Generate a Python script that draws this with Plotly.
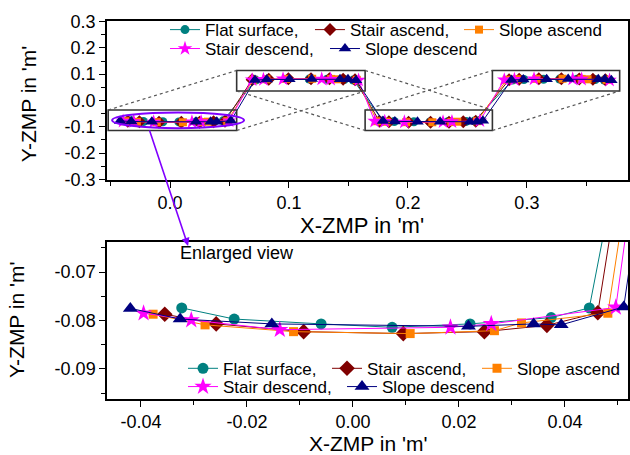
import plotly.graph_objects as go

# ---------------- data ----------------
series_names = ["Flat surface,", "Stair ascend,", "Slope ascend", "Stair descend,", "Slope descend"]

flat_x = [-0.0323, -0.0224, -0.0060, 0.0074, 0.0221, 0.0374, 0.0446,
          0.0720, 0.0815, 0.0985, 0.1170, 0.1320, 0.1465, 0.1540,
          0.1790, 0.1885, 0.2050, 0.2185, 0.2335, 0.2490, 0.2560,
          0.2880, 0.2975, 0.3140, 0.3275, 0.3420, 0.3575, 0.3650]
flat_y = [-0.0774, -0.0797, -0.0807, -0.0814, -0.0807, -0.0794, -0.0774,
          0.0776, 0.0798, 0.0808, 0.0812, 0.0806, 0.0795, 0.0775,
          -0.0775, -0.0796, -0.0808, -0.0813, -0.0806, -0.0795, -0.0776,
          0.0777, 0.0797, 0.0806, 0.0813, 0.0807, 0.0794, 0.0775]

stair_up_x = [-0.0355, -0.0258, -0.0093, 0.0095, 0.0248, 0.0366, 0.0462,
              0.0690, 0.0830, 0.0995, 0.1185, 0.1340, 0.1455, 0.1555,
              0.1760, 0.1840, 0.2005, 0.2190, 0.2345, 0.2465, 0.2570,
              0.2850, 0.2935, 0.3100, 0.3290, 0.3440, 0.3555, 0.3660]
stair_up_y = [-0.0787, -0.0807, -0.0823, -0.0827, -0.0823, -0.0810, -0.0784,
              0.0786, 0.0806, 0.0822, 0.0826, 0.0822, 0.0811, 0.0785,
              -0.0786, -0.0808, -0.0822, -0.0826, -0.0822, -0.0810, -0.0785,
              0.0787, 0.0807, 0.0823, 0.0827, 0.0821, 0.0810, 0.0784]

slope_up_x = [-0.0377, -0.0279, -0.0112, 0.0108, 0.0267, 0.0318, 0.0481,
              0.0700, 0.0810, 0.0975, 0.1195, 0.1355, 0.1405, 0.1570,
              0.1740, 0.1820, 0.1985, 0.2205, 0.2365, 0.2415, 0.2580,
              0.2830, 0.2915, 0.3080, 0.3300, 0.3460, 0.3510, 0.3670]
slope_up_y = [-0.0787, -0.0809, -0.0823, -0.0827, -0.0821, -0.0805, -0.0785,
              0.0786, 0.0808, 0.0822, 0.0826, 0.0820, 0.0806, 0.0784,
              -0.0788, -0.0808, -0.0824, -0.0826, -0.0821, -0.0806, -0.0785,
              0.0787, 0.0809, 0.0823, 0.0827, 0.0820, 0.0805, 0.0786]

stair_down_x = [-0.0395, -0.0305, -0.0138, 0.0184, 0.0261, 0.0496,
                0.0690, 0.0785, 0.0950, 0.1275, 0.1350, 0.1585,
                0.1720, 0.1805, 0.1970, 0.2295, 0.2370, 0.2605,
                0.2810, 0.2895, 0.3060, 0.3385, 0.3460, 0.3695]
stair_down_y = [-0.0785, -0.0799, -0.0819, -0.0814, -0.0807, -0.0773,
                0.0784, 0.0800, 0.0818, 0.0815, 0.0806, 0.0774,
                -0.0786, -0.0798, -0.0819, -0.0813, -0.0807, -0.0774,
                0.0785, 0.0799, 0.0820, 0.0814, 0.0808, 0.0773]

slope_down_x = [-0.0420, -0.0326, -0.0153, 0.0218, 0.0341, 0.0393, 0.0511,
                0.0714, 0.0813, 0.1003, 0.1191, 0.1429, 0.1496, 0.1563,
                0.1790, 0.1890, 0.2080, 0.2270, 0.2520, 0.2580, 0.2630,
                0.2870, 0.2970, 0.3166, 0.3347, 0.3600, 0.3655, 0.3710]
slope_down_y = [-0.0775, -0.0797, -0.0807, -0.0812, -0.0807, -0.0809, -0.0772,
                0.0774, 0.0798, 0.0806, 0.0813, 0.0808, 0.0808, 0.0773,
                -0.0776, -0.0796, -0.0807, -0.0812, -0.0806, -0.0809, -0.0773,
                0.0775, 0.0797, 0.0808, 0.0812, 0.0807, 0.0809, 0.0772]

series_x = [flat_x, stair_up_x, slope_up_x, stair_down_x, slope_down_x]
series_y = [flat_y, stair_up_y, slope_up_y, stair_down_y, slope_down_y]

top_x_ticks = [0.0, 0.1, 0.2, 0.3]
top_x_labels = ["0.0", "0.1", "0.2", "0.3"]
top_y_ticks = [-0.3, -0.2, -0.1, 0.0, 0.1, 0.2, 0.3]
top_y_labels = ["-0.3", "-0.2", "-0.1", "0.0", "0.1", "0.2", "0.3"]
bot_x_ticks = [-0.04, -0.02, 0.0, 0.02, 0.04]
bot_x_labels = ["-0.04", "-0.02", "0.00", "0.02", "0.04"]
bot_y_ticks = [-0.09, -0.08, -0.07]
bot_y_labels = ["-0.09", "-0.08", "-0.07"]

# ---------------- styling ----------------
colors = ["#008080", "#800000", "#FF8000", "#FF00FF", "#000080"]
symbols = ["circle", "diamond", "square", "star", "triangle-up"]
size_top = [9, 10, 8, 11, 11]
size_bot = [11, 12, 9, 13, 13]
FONT = "Liberation Sans, Arial, sans-serif"

# legend entry placement (paper coords): two rows in each panel
top_leg_pos = [(0.1113, 0.976), (0.3896, 0.976), (0.6756, 0.976), (0.1113, 0.926), (0.4184, 0.926)]
bot_leg_pos = [(0.1459, 0.080), (0.4223, 0.080), (0.7102, 0.080), (0.1459, 0.0317), (0.4511, 0.0317)]

def legend_id(k):
    return "legend" if k == 1 else "legend%d" % k

fig = go.Figure()
for i, name in enumerate(series_names):
    fig.add_trace(go.Scatter(
        x=series_x[i], y=series_y[i], mode="lines+markers", name=name,
        xaxis="x", yaxis="y", legend=legend_id(i + 1),
        line=dict(color=colors[i], width=1),
        marker=dict(symbol=symbols[i], size=size_top[i], color=colors[i],
                    line=dict(width=0))))
for i, name in enumerate(series_names):
    fig.add_trace(go.Scatter(
        x=series_x[i], y=series_y[i], mode="lines+markers", name=name,
        xaxis="x2", yaxis="y2", legend=legend_id(i + 6),
        line=dict(color=colors[i], width=1),
        marker=dict(symbol=symbols[i], size=size_bot[i], color=colors[i],
                    line=dict(width=0))))

axis_common = dict(showline=True, linecolor="black", linewidth=1.5, mirror=True,
                   showgrid=False, zeroline=False, ticks="outside", ticklen=6,
                   tickwidth=1.2, tickcolor="black", automargin=False,
                   tickfont=dict(family=FONT, size=18, color="black"))

fig.update_layout(
    width=630, height=455,
    margin=dict(l=107, r=2, t=21, b=56, autoexpand=False),
    paper_bgcolor="white", plot_bgcolor="white",
    font=dict(family=FONT, color="black"),
    xaxis=dict(domain=[0, 1], anchor="y", range=[-0.053, 0.385],
               tickmode="array", tickvals=top_x_ticks, ticktext=top_x_labels,
               minor=dict(tickvals=[-0.05, 0.05, 0.15, 0.25, 0.35], ticklen=4,
                          ticks="outside", tickcolor="black"),
               **axis_common),
    yaxis=dict(domain=[0.5794, 1], anchor="x", range=[-0.302, 0.302],
               tickmode="array", tickvals=top_y_ticks, ticktext=top_y_labels,
               minor=dict(tickvals=[-0.25, -0.15, -0.05, 0.05, 0.15, 0.25], ticklen=4,
                          ticks="outside", tickcolor="black"),
               **axis_common),
    xaxis2=dict(domain=[0, 1], anchor="y2", range=[-0.0464, 0.0519],
                tickmode="array", tickvals=bot_x_ticks, ticktext=bot_x_labels,
                minor=dict(tickvals=[-0.03, -0.01, 0.01, 0.03, 0.05], ticklen=4,
                           ticks="outside", tickcolor="black"),
                **axis_common),
    yaxis2=dict(domain=[0, 0.4153], anchor="x2", range=[-0.0962, -0.0638],
                tickmode="array", tickvals=bot_y_ticks, ticktext=bot_y_labels,
                minor=dict(tickvals=[-0.095, -0.085, -0.075, -0.065], ticklen=4,
                           ticks="outside", tickcolor="black"),
                **axis_common),
    showlegend=True,
)

leg_common = dict(orientation="h", xanchor="left", yanchor="middle",
                  bgcolor="rgba(0,0,0,0)", borderwidth=0,
                  font=dict(family=FONT, size=17, color="black"))
legends = {}
for k, (lx, ly) in enumerate(top_leg_pos + bot_leg_pos):
    legends[legend_id(k + 1)] = dict(x=lx, y=ly, **leg_common)
fig.update_layout(**legends)

# zoom boxes around each step in the top panel
box_x = [(-0.052, 0.056), (0.056, 0.164), (0.164, 0.271), (0.271, 0.378)]
box_y = [(-0.114, -0.036), (0.036, 0.114), (-0.114, -0.036), (0.036, 0.114)]
shapes = []
for (x0, x1), (y0, y1) in zip(box_x, box_y):
    shapes.append(dict(type="rect", xref="x", yref="y", x0=x0, x1=x1, y0=y0, y1=y1,
                       line=dict(color="#333333", width=1.6)))
connectors = [
    ((-0.052, -0.036), (0.056, 0.114)),
    ((0.056, -0.114), (0.164, 0.036)),
    ((0.056, 0.036), (0.164, -0.114)),
    ((0.164, 0.114), (0.271, -0.036)),
    ((0.164, -0.036), (0.271, 0.114)),
    ((0.271, -0.114), (0.378, 0.036)),
]
for (a, b) in connectors:
    shapes.append(dict(type="line", xref="x", yref="y", x0=a[0], y0=a[1], x1=b[0], y1=b[1],
                       line=dict(color="#555555", width=1.2, dash="dot")))
shapes.append(dict(type="circle", xref="x", yref="y", x0=-0.0487, x1=0.0622,
                   y0=-0.105, y1=-0.0458, line=dict(color="#8000FF", width=2)))
fig.update_layout(shapes=shapes)

annotations = [
    dict(text="X-ZMP in 'm'", xref="paper", yref="paper", x=0.49, y=0.458,
         showarrow=False, xanchor="center", yanchor="middle",
         font=dict(family=FONT, size=22, color="black")),
    dict(text="X-ZMP in 'm'", xref="paper", yref="paper", x=0.5, y=-0.1175,
         showarrow=False, xanchor="center", yanchor="middle",
         font=dict(family=FONT, size=21, color="black")),
    dict(text="Y-ZMP in 'm'", xref="paper", yref="paper", x=-0.1516, y=0.780,
         showarrow=False, xanchor="center", yanchor="middle", textangle=-90,
         font=dict(family=FONT, size=21, color="black")),
    dict(text="Y-ZMP in 'm'", xref="paper", yref="paper", x=-0.1727, y=0.209,
         showarrow=False, xanchor="center", yanchor="middle", textangle=-90,
         font=dict(family=FONT, size=21, color="black")),
    dict(text="Enlarged view", xref="paper", yref="paper", x=0.1363, y=0.386,
         showarrow=False, xanchor="left", yanchor="middle",
         font=dict(family=FONT, size=18, color="black")),
    dict(text="", xref="x2", yref="y2", x=-0.0311, y=-0.0646, ax=-39, ay=-117,
         showarrow=True, arrowhead=2, arrowsize=1, arrowwidth=1.6,
         arrowcolor="#8000FF"),
]
fig.update_layout(annotations=annotations)

fig.write_html("out.html", config={"displayModeBar": False},
               post_script="document.body.style.margin='0px';")
